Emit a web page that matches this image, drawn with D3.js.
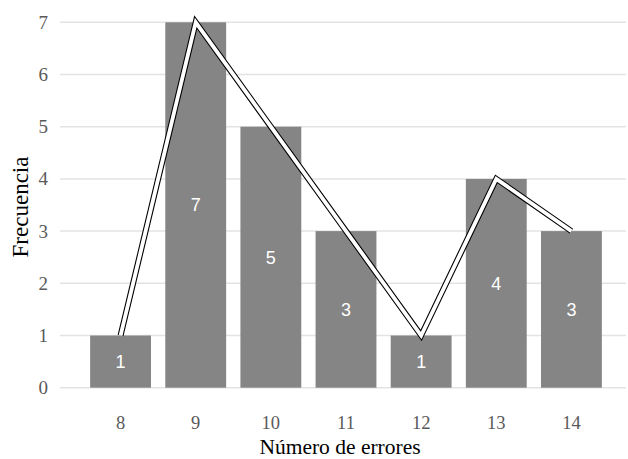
<!DOCTYPE html>
<html>
<head>
<meta charset="utf-8">
<script src="https://cdn.jsdelivr.net/npm/d3@7"></script>
<style>
  body { margin: 0; background: #fff; }
  svg { display: block; }
</style>
</head>
<body>
<svg id="chart" width="628" height="459"></svg>
<script>
// Frequency of errors
const categories = ["8", "9", "10", "11", "12", "13", "14"];
const frequencies = [1, 7, 5, 3, 1, 4, 3];
const yTicks = [0, 1, 2, 3, 4, 5, 6, 7];

const svg = d3.select("#chart");
const serif = "'Liberation Serif', 'Times New Roman', serif";

const x = d3.scaleBand().domain(categories).range([83, 609]).paddingInner(0.19).paddingOuter(0.095);
const y = d3.scaleLinear().domain([0, 7]).range([387.7, 22.3]);

// Horizontal gridlines
svg.append("g").selectAll("line").data(yTicks).join("line")
  .attr("x1", 60).attr("x2", 626)
  .attr("y1", d => y(d)).attr("y2", d => y(d))
  .attr("stroke", "#e3e3e3").attr("stroke-width", 1.5);

// Y axis labels
const yAxis = svg.append("g").attr("transform", "translate(48,0)")
  .call(d3.axisLeft(y).tickValues(yTicks).tickSize(0).tickPadding(0).tickFormat(d3.format("d")));
yAxis.select(".domain").remove();
yAxis.selectAll("text").attr("font-family", serif).attr("font-size", 19).attr("fill", "#595959");

// X axis labels
const xAxis = svg.append("g").attr("transform", "translate(0,416)")
  .call(d3.axisBottom(x).tickSize(0).tickPadding(0));
xAxis.select(".domain").remove();
xAxis.selectAll("text").attr("font-family", serif).attr("font-size", 18.5).attr("fill", "#595959");

// Bars
svg.append("g").selectAll("rect").data(categories).join("rect")
  .attr("x", d => x(d))
  .attr("width", x.bandwidth())
  .attr("y", (d, i) => y(frequencies[i]))
  .attr("height", (d, i) => y(0) - y(frequencies[i]))
  .attr("fill", "#858585");

// Value labels centered in the bars
svg.append("g").selectAll("text").data(categories).join("text")
  .attr("x", d => x(d) + x.bandwidth() / 2)
  .attr("y", (d, i) => (y(frequencies[i]) + y(0)) / 2)
  .attr("dy", "0.35em")
  .attr("text-anchor", "middle")
  .attr("font-family", "'Liberation Sans', Arial, sans-serif")
  .attr("font-size", 18)
  .attr("fill", "#ffffff")
  .text((d, i) => frequencies[i]);

// Frequency polygon: black outline with white core
const line = d3.line()
  .x((d, i) => x(categories[i]) + x.bandwidth() / 2)
  .y(d => y(d));
svg.append("path").datum(frequencies)
  .attr("d", line).attr("fill", "none")
  .attr("stroke", "#000").attr("stroke-width", 6).attr("stroke-linejoin", "miter");
svg.append("path").datum(frequencies)
  .attr("d", line).attr("fill", "none")
  .attr("stroke", "#fff").attr("stroke-width", 3.8).attr("stroke-linejoin", "miter");

// Axis titles
svg.append("text")
  .attr("x", 340).attr("y", 454)
  .attr("text-anchor", "middle")
  .attr("font-family", serif).attr("font-size", 21.5).attr("fill", "#000")
  .text("Número de errores");
svg.append("text")
  .attr("transform", "translate(28,207) rotate(-90)")
  .attr("text-anchor", "middle")
  .attr("font-family", serif).attr("font-size", 23).attr("fill", "#000")
  .text("Frecuencia");
</script>
</body>
</html>
